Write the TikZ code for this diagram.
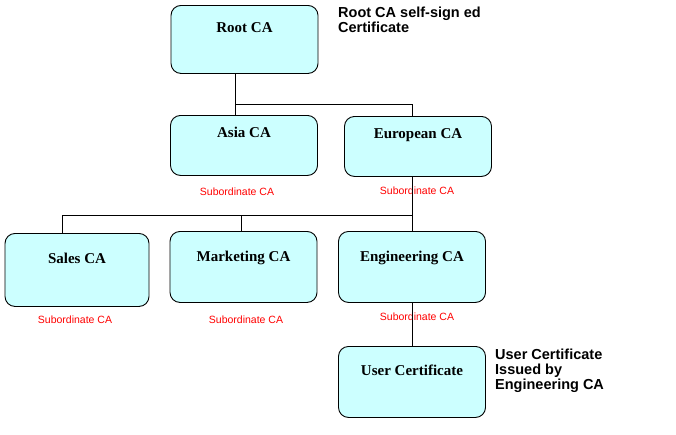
\documentclass[tikz,border=0pt]{standalone}
\usepackage{fontspec}
\setmainfont{Liberation Serif}
\setsansfont{Liberation Sans}
\definecolor{boxfill}{HTML}{CCFFFF}
\definecolor{subred}{HTML}{FF0000}
\begin{document}
\begin{tikzpicture}[x=1pt,y=-1pt,
  cabox/.style 2 args={draw=black, line width=0.9pt, fill=boxfill, rounded corners=10pt,
    anchor=north, inner xsep=0pt, inner ysep=0pt, minimum width=147pt,
    font=\fontsize{15}{17}\selectfont\bfseries, text height=#1, text depth=#2},
  subca/.style={font=\sffamily\fontsize{10.5}{12}\selectfont, text=subred, inner sep=0pt},
  note/.style={font=\sffamily\bfseries\fontsize{14.5}{15}\selectfont, align=left, anchor=north west, inner sep=0pt},
  conn/.style={draw=black, line width=0.9pt}]
\useasboundingbox (0,0) rectangle (676,434);
% boxes
\node[cabox={27.5pt}{40.5pt}] (root) at (244.5,5) {Root CA};
\node[cabox={22.5pt}{37.5pt}] (asia) at (244,115) {Asia CA};
\node[cabox={22.5pt}{37.5pt}] (euro) at (418,116) {European CA};
\node[cabox={30.5pt}{42.5pt}, minimum width=144pt] (sales) at (77,233) {Sales CA};
\node[cabox={30.5pt}{40.5pt}] (mkt) at (243.5,231) {Marketing CA};
\node[cabox={30.5pt}{40.5pt}] (eng) at (412,231) {Engineering CA};
\node[cabox={29.5pt}{41.5pt}] (user) at (412,346) {User Certificate};
% subordinate labels
\node[subca] (s1) at (237,192) {Subordinate CA};
\node[subca] (s2) at (417,191) {Subordinate CA};
\node[subca] (s3) at (75,320) {Subordinate CA};
\node[subca] (s4) at (246,320) {Subordinate CA};
\node[subca] (s5) at (417,317) {Subordinate CA};
% notes
\node[note] (n1) at (338,7) {Root CA self-sign ed\\Certificate};
\node[note] (n2) at (495,349) {User Certificate\\Issued by\\Engineering CA};
% connectors
\coordinate (b1) at (235,104);
\coordinate (b2) at (412,104);
\coordinate (c1) at (62,215);
\coordinate (c2) at (241,215);
\coordinate (c3) at (412,215);
\draw[conn] (root.south -| b1) -- (b1) -- (b2) -- (b2 |- euro.north);
\draw[conn] (b1) -- (b1 |- asia.north);
\draw[conn] (euro.south -| c3) -- (c3) -- (c1) -- (c1 |- sales.north);
\draw[conn] (c2) -- (c2 |- mkt.north);
\draw[conn] (c3) -- (eng.north);
\draw[conn] (eng.south) -- (user.north);
\end{tikzpicture}
\end{document}
